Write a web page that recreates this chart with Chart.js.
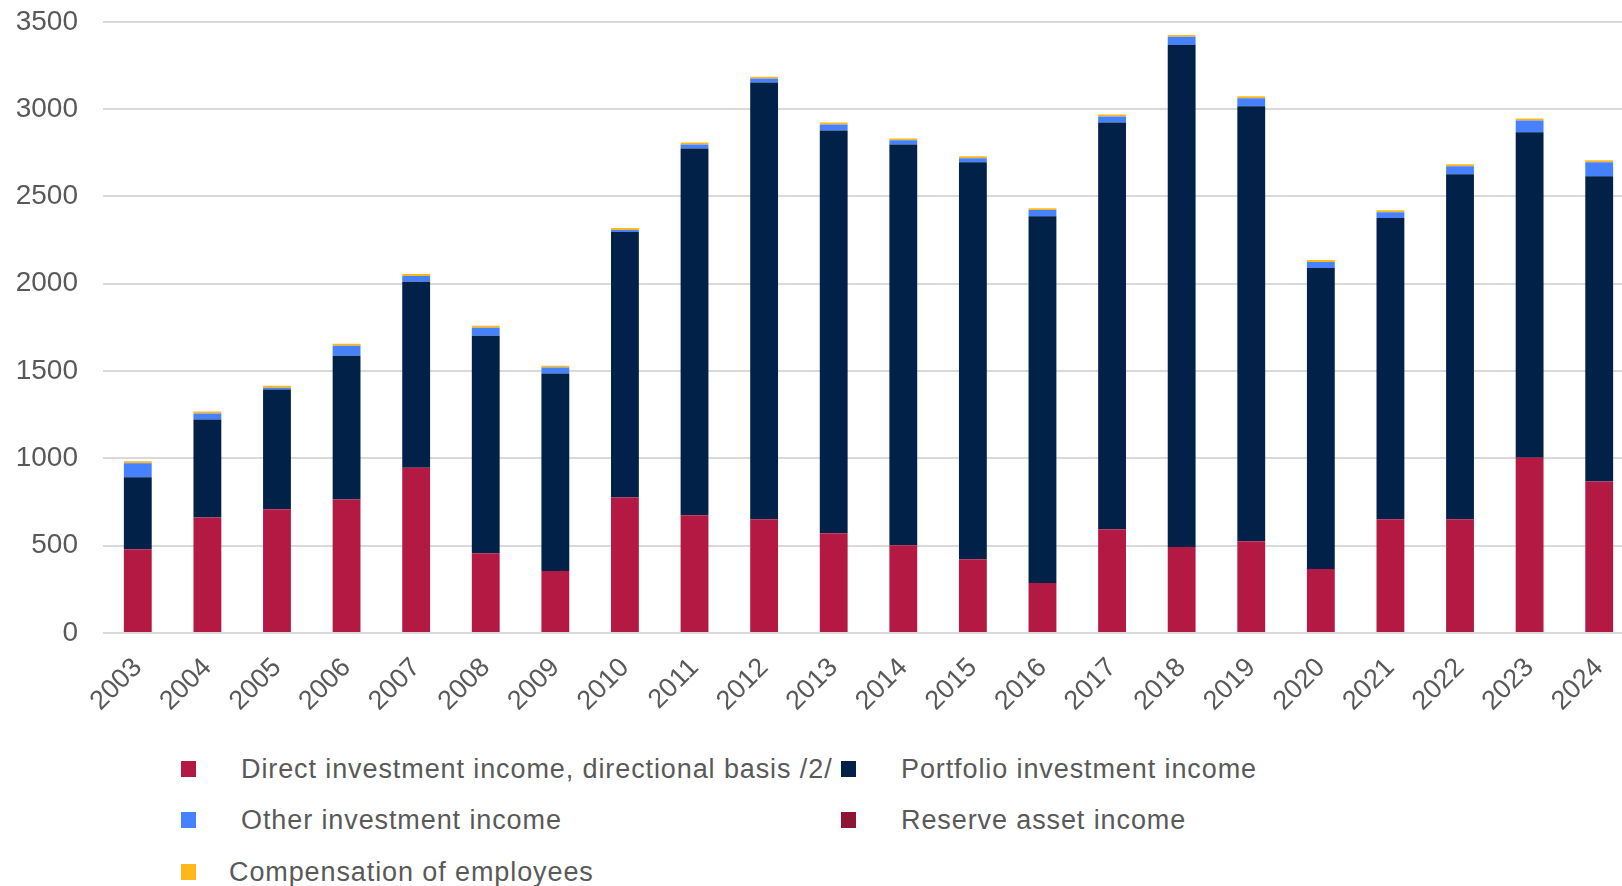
<!DOCTYPE html>
<html>
<head>
<meta charset="utf-8">
<title>Investment income</title>
<script src="https://cdn.jsdelivr.net/npm/chart.js@4/dist/chart.umd.min.js"></script>
<style>
  html, body { margin: 0; padding: 0; background: #fff; overflow: hidden; }
  #wrap { position: relative; width: 1622px; height: 886px; overflow: hidden; }
  #incomeChart { position: absolute; left: 0; top: -20px; }
  .legend-item {
    position: absolute; height: 30px; white-space: nowrap;
    font-family: "Liberation Sans", Arial, sans-serif; font-size: 27px;
    letter-spacing: 0.9px; color: #595959;
  }
  .legend-item .swatch { position: absolute; left: 0; top: 7px; width: 15px; height: 16px; }
  .legend-item .label { position: absolute; top: 0; line-height: 30px; }
</style>
</head>
<body>
<div id="wrap">
  <canvas id="incomeChart" width="1640" height="740"></canvas>
  <div id="legend"></div>
</div>
<script>
const years = ['2003', '2004', '2005', '2006', '2007', '2008', '2009', '2010', '2011', '2012', '2013',
  '2014', '2015', '2016', '2017', '2018', '2019', '2020', '2021', '2022', '2023', '2024'];

const directIncome = [480, 662, 708, 765, 947, 457, 355, 776, 674, 651, 571,
  503, 423, 287, 594, 493, 526, 366, 651, 651, 1004, 867];
const portfolioIncome = [412, 561, 686, 823, 1064, 1245, 1131, 1520, 2101, 2501, 2307,
  2295, 2273, 2100, 2330, 2876, 2490, 1724, 1725, 1976, 1863, 1749];
const otherIncome = [80, 34, 11, 57, 34, 46, 34, 12, 23, 23, 34,
  23, 23, 35, 34, 45, 46, 35, 34, 46, 68, 80];
const reserveIncome = [0, 0, 0, 0, 0, 0, 0, 0, 0, 0, 0,
  0, 0, 0, 0, 0, 0, 0, 0, 0, 0, 0];
const compensation = [11, 11, 11, 11, 11, 11, 11, 11, 11, 11, 11,
  11, 11, 11, 11, 11, 11, 11, 11, 11, 11, 11];

const yTicks = [0, 500, 1000, 1500, 2000, 2500, 3000, 3500];

const series = [
  { label: 'Direct investment income, directional basis /2/', data: directIncome, color: '#B31942' },
  { label: 'Portfolio investment income', data: portfolioIncome, color: '#012148' },
  { label: 'Other investment income', data: otherIncome, color: '#4682FF' },
  { label: 'Reserve asset income', data: reserveIncome, color: '#8C1538' },
  { label: 'Compensation of employees', data: compensation, color: '#FFB81C' }
];

const fontFamily = '"Liberation Sans", Arial, sans-serif';

new Chart(document.getElementById('incomeChart'), {
  type: 'bar',
  data: {
    labels: years,
    datasets: series.map(s => ({
      label: s.label,
      data: s.data,
      backgroundColor: s.color,
      borderWidth: 0,
      barPercentage: 0.4,
      categoryPercentage: 1
    }))
  },
  options: {
    responsive: false,
    animation: false,
    layout: { padding: { top: 1, right: 6, bottom: 0, left: 0 } },
    plugins: {
      legend: { display: false },
      tooltip: { enabled: false }
    },
    scales: {
      x: {
        stacked: true,
        grid: { display: false },
        border: { display: false },
        ticks: {
          color: '#595959',
          font: { family: fontFamily, size: 27 },
          maxRotation: 45,
          minRotation: 45,
          padding: 11,
          autoSkip: false
        },
        afterFit(scale) { scale.height = 87; }
      },
      y: {
        stacked: true,
        min: 0,
        max: yTicks[yTicks.length - 1],
        afterBuildTicks(scale) { scale.ticks = yTicks.map(v => ({ value: v })); },
        grid: { color: '#d9d9d9', lineWidth: 2, drawTicks: false },
        border: { display: false },
        ticks: {
          color: '#595959',
          font: { family: fontFamily, size: 28 },
          padding: 25,
          callback: v => String(v)
        },
        afterFit(scale) { scale.width = 103; }
      }
    }
  }
});

// legend laid out in two columns under the plot
const legendSpots = [
  { left: 181, top: 754, text: 60 },
  { left: 841, top: 754, text: 60 },
  { left: 181, top: 805, text: 60 },
  { left: 841, top: 805, text: 60 },
  { left: 181, top: 857, text: 48 }
];
const legend = document.getElementById('legend');
series.forEach((s, i) => {
  const spot = legendSpots[i];
  const item = document.createElement('div');
  item.className = 'legend-item';
  item.style.left = spot.left + 'px';
  item.style.top = spot.top + 'px';
  item.innerHTML = '<span class="swatch" style="background:' + s.color + '"></span>' +
    '<span class="label" style="left:' + spot.text + 'px">' + s.label + '</span>';
  legend.appendChild(item);
});
</script>
</body>
</html>
